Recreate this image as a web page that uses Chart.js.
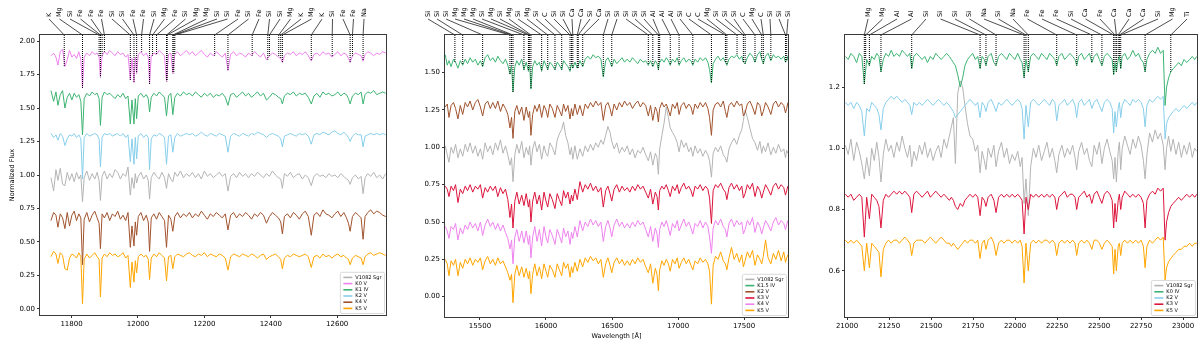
<!DOCTYPE html>
<html>
<head>
<meta charset="utf-8">
<script src="https://cdn.jsdelivr.net/npm/chart.js@4/dist/chart.umd.min.js"></script>
<style>
  html, body { margin: 0; padding: 0; background: #fff; }
  #fig { position: relative; width: 1200px; height: 345px; }
  #fig canvas { position: absolute; top: 0; }
</style>
</head>
<body>
<div id="fig">
  <canvas id="panelJ" width="400" height="345" style="left:0"></canvas>
  <canvas id="panelH" width="400" height="345" style="left:400px"></canvas>
  <canvas id="panelK" width="400" height="345" style="left:800px"></canvas>
</div>
<script>
'use strict';

// ---- J band panel ----
var waveJ = [
  11738, 11746, 11753, 11759, 11766, 11773, 11780, 11787, 11794, 11801,
  11808, 11815, 11822, 11828, 11833, 11838, 11846, 11854, 11862, 11870,
  11877, 11883, 11887, 11892, 11899, 11907, 11915, 11923, 11931, 11939,
  11947, 11955, 11963, 11970, 11977, 11982, 11988, 11992, 11996, 12001,
  12009, 12017, 12025, 12031, 12035, 12040, 12048, 12056, 12064, 12072,
  12080, 12086, 12092, 12099, 12105, 12111, 12119, 12128, 12137, 12146,
  12155, 12164, 12173, 12182, 12191, 12200, 12209, 12218, 12227, 12236,
  12245, 12254, 12263, 12271, 12279, 12288, 12297, 12306, 12315, 12324,
  12333, 12342, 12351, 12360, 12369, 12378, 12387, 12396, 12405, 12414,
  12423, 12430, 12435, 12441, 12450, 12459, 12468, 12477, 12486, 12495,
  12504, 12513, 12522, 12530, 12539, 12548, 12557, 12566, 12575, 12584,
  12593, 12602, 12611, 12620, 12628, 12634, 12639, 12646, 12655, 12664,
  12672, 12678, 12684, 12692, 12701, 12710, 12719, 12728, 12737, 12746
];
var fluxJ_Sgr = [
  0.98, 0.88, 1.04, 0.96, 1.05, 0.93, 0.92, 1.02, 0.96, 1.01,
  0.95, 1.02, 0.97, 1.00, 0.80, 0.98, 1.03, 0.96, 1.01, 0.97,
  1.02, 0.96, 0.81, 0.99, 1.03, 0.97, 1.01, 0.98, 1.04, 1.02,
  0.97, 1.01, 0.99, 1.06, 0.85, 0.98, 0.90, 1.01, 0.94, 0.99,
  1.02, 0.97, 1.00, 0.96, 0.82, 0.98, 1.02, 0.99, 0.97, 1.02,
  0.98, 0.90, 1.01, 0.97, 0.95, 1.02, 0.99, 1.03, 0.98, 1.01,
  0.99, 1.02, 0.98, 1.01, 0.97, 1.03, 0.99, 1.01, 0.98, 1.00,
  1.02, 0.99, 1.01, 0.88, 0.99, 1.01, 0.98, 1.02, 0.99, 1.01,
  0.98, 1.01, 0.99, 1.02, 1.00, 0.98, 1.01, 0.99, 1.03, 1.00,
  0.98, 0.97, 0.90, 1.01, 0.99, 1.02, 0.98, 1.00, 1.01, 0.97,
  1.00, 0.98, 0.92, 0.99, 1.01, 0.99, 1.00, 0.98, 1.01, 0.99,
  1.00, 0.98, 1.01, 0.99, 0.97, 0.96, 0.93, 0.98, 1.00, 0.97,
  0.99, 0.86, 0.98, 1.01, 0.99, 1.02, 0.98, 1.00, 0.97, 1.01
];
var fluxJ_K0V = [
  1.89, 1.91, 1.88, 1.82, 1.92, 1.94, 1.81, 1.86, 1.93, 1.88,
  1.90, 1.87, 1.92, 1.86, 1.65, 1.88, 1.91, 1.89, 1.92, 1.90,
  1.91, 1.88, 1.73, 1.89, 1.92, 1.90, 1.93, 1.91, 1.89, 1.92,
  1.90, 1.91, 1.88, 1.90, 1.71, 1.87, 1.69, 1.88, 1.76, 1.90,
  1.92, 1.89, 1.91, 1.88, 1.68, 1.89, 1.91, 1.90, 1.93, 1.91,
  1.89, 1.70, 1.90, 1.91, 1.76, 1.90, 1.92, 1.89, 1.91, 1.93,
  1.90, 1.92, 1.89, 1.91, 1.93, 1.90, 1.88, 1.91, 1.89, 1.92,
  1.90, 1.88, 1.91, 1.78, 1.90, 1.92, 1.89, 1.91, 1.90, 1.88,
  1.91, 1.89, 1.92, 1.90, 1.88, 1.91, 1.86, 1.89, 1.91, 1.90,
  1.88, 1.87, 1.84, 1.89, 1.91, 1.90, 1.92, 1.89, 1.91, 1.90,
  1.92, 1.89, 1.85, 1.90, 1.91, 1.89, 1.92, 1.90, 1.91, 1.88,
  1.90, 1.92, 1.89, 1.91, 1.90, 1.87, 1.84, 1.89, 1.91, 1.90,
  1.89, 1.85, 1.90, 1.92, 1.91, 1.89, 1.91, 1.90, 1.92, 1.91
];
var fluxJ_K1IV = [
  1.63, 1.55, 1.62, 1.52, 1.60, 1.63, 1.50, 1.58, 1.61, 1.56,
  1.61, 1.58, 1.60, 1.55, 1.30, 1.57, 1.61, 1.59, 1.62, 1.60,
  1.61, 1.57, 1.37, 1.58, 1.62, 1.60, 1.61, 1.59, 1.57, 1.60,
  1.58, 1.61, 1.57, 1.59, 1.38, 1.56, 1.38, 1.57, 1.42, 1.59,
  1.61, 1.58, 1.60, 1.57, 1.47, 1.58, 1.61, 1.59, 1.62, 1.60,
  1.58, 1.44, 1.59, 1.61, 1.45, 1.58, 1.61, 1.59, 1.62, 1.60,
  1.61, 1.59, 1.62, 1.60, 1.58, 1.61, 1.59, 1.61, 1.58, 1.60,
  1.59, 1.61, 1.58, 1.52, 1.60, 1.61, 1.58, 1.60, 1.62, 1.59,
  1.61, 1.58, 1.60, 1.62, 1.59, 1.61, 1.56, 1.58, 1.61, 1.60,
  1.58, 1.57, 1.53, 1.59, 1.61, 1.60, 1.62, 1.59, 1.61, 1.60,
  1.61, 1.58, 1.53, 1.59, 1.61, 1.58, 1.62, 1.60, 1.61, 1.59,
  1.60, 1.62, 1.59, 1.61, 1.60, 1.57, 1.53, 1.59, 1.61, 1.60,
  1.62, 1.53, 1.60, 1.62, 1.61, 1.63, 1.60, 1.61, 1.62, 1.61
];
var fluxJ_K2V = [
  1.31, 1.28, 1.30, 1.26, 1.31, 1.29, 1.22, 1.27, 1.30, 1.29,
  1.31, 1.28, 1.30, 1.27, 0.97, 1.28, 1.31, 1.29, 1.30, 1.31,
  1.30, 1.27, 1.06, 1.28, 1.31, 1.30, 1.31, 1.29, 1.30, 1.31,
  1.29, 1.31, 1.28, 1.30, 1.10, 1.27, 1.08, 1.28, 1.12, 1.29,
  1.31, 1.28, 1.30, 1.28, 1.04, 1.27, 1.30, 1.29, 1.31, 1.30,
  1.28, 1.08, 1.29, 1.30, 1.17, 1.28, 1.31, 1.29, 1.30, 1.31,
  1.30, 1.31, 1.29, 1.30, 1.32, 1.30, 1.29, 1.31, 1.30, 1.29,
  1.31, 1.30, 1.29, 1.17, 1.29, 1.31, 1.30, 1.29, 1.31, 1.30,
  1.29, 1.31, 1.30, 1.32, 1.31, 1.30, 1.28, 1.30, 1.31, 1.30,
  1.29, 1.27, 1.21, 1.29, 1.30, 1.31, 1.30, 1.29, 1.31, 1.30,
  1.31, 1.29, 1.23, 1.30, 1.31, 1.30, 1.32, 1.31, 1.30, 1.32,
  1.33, 1.31, 1.30, 1.32, 1.30, 1.28, 1.25, 1.29, 1.31, 1.30,
  1.30, 1.21, 1.29, 1.30, 1.31, 1.30, 1.31, 1.30, 1.31, 1.30
];
var fluxJ_K4V = [
  0.66, 0.72, 0.70, 0.61, 0.71, 0.68, 0.60, 0.72, 0.62, 0.70,
  0.73, 0.66, 0.71, 0.68, 0.33, 0.67, 0.72, 0.65, 0.70, 0.73,
  0.68, 0.64, 0.45, 0.71, 0.68, 0.72, 0.66, 0.71, 0.69, 0.73,
  0.67, 0.70, 0.66, 0.72, 0.46, 0.62, 0.47, 0.65, 0.55, 0.69,
  0.72, 0.66, 0.70, 0.65, 0.43, 0.68, 0.71, 0.67, 0.72, 0.69,
  0.66, 0.46, 0.70, 0.67, 0.58, 0.69, 0.72, 0.68, 0.71, 0.69,
  0.72, 0.68, 0.71, 0.69, 0.73, 0.70, 0.67, 0.71, 0.69, 0.72,
  0.70, 0.68, 0.71, 0.59, 0.70, 0.72, 0.68, 0.71, 0.69, 0.72,
  0.70, 0.67, 0.71, 0.69, 0.72, 0.70, 0.64, 0.69, 0.72, 0.70,
  0.68, 0.65, 0.56, 0.69, 0.71, 0.68, 0.72, 0.70, 0.67, 0.71,
  0.73, 0.69, 0.55, 0.70, 0.72, 0.69, 0.74, 0.71, 0.70, 0.68,
  0.71, 0.73, 0.69, 0.72, 0.68, 0.64, 0.58, 0.69, 0.72, 0.70,
  0.68, 0.52, 0.69, 0.72, 0.74, 0.71, 0.73, 0.72, 0.70, 0.69
];
var fluxJ_K5V = [
  0.39, 0.43, 0.41, 0.34, 0.42, 0.40, 0.30, 0.29, 0.38, 0.41,
  0.40, 0.38, 0.42, 0.39, 0.04, 0.37, 0.41, 0.38, 0.40, 0.42,
  0.39, 0.37, 0.09, 0.38, 0.41, 0.39, 0.42, 0.40, 0.41, 0.39,
  0.40, 0.42, 0.38, 0.40, 0.16, 0.35, 0.20, 0.36, 0.27, 0.39,
  0.41, 0.39, 0.40, 0.37, 0.22, 0.38, 0.41, 0.39, 0.42, 0.40,
  0.38, 0.21, 0.39, 0.40, 0.30, 0.39, 0.41, 0.40, 0.39, 0.41,
  0.42, 0.40, 0.39, 0.41, 0.40, 0.42, 0.39, 0.41, 0.40, 0.39,
  0.41, 0.40, 0.38, 0.29, 0.39, 0.41, 0.40, 0.39, 0.41, 0.40,
  0.39, 0.41, 0.40, 0.38, 0.40, 0.41, 0.37, 0.39, 0.40, 0.41,
  0.39, 0.37, 0.30, 0.38, 0.40, 0.39, 0.41, 0.40, 0.39, 0.40,
  0.41, 0.39, 0.31, 0.39, 0.40, 0.38, 0.41, 0.39, 0.40, 0.38,
  0.40, 0.41, 0.39, 0.40, 0.38, 0.37, 0.33, 0.38, 0.40, 0.39,
  0.38, 0.33, 0.39, 0.41, 0.42, 0.40, 0.41, 0.42, 0.41, 0.40
];
var linesJ = [11778, 11833, 11883, 11887, 11892, 11899, 11977, 11988, 11996, 12011,
  12035, 12044, 12056, 12086, 12088, 12105, 12108, 12111, 12231, 12271,
  12344, 12391, 12396, 12424, 12430, 12435, 12522, 12585, 12639, 12646, 12678];
var namesJ = ['K', 'Mg', 'Si', 'Fe', 'Fe', 'Fe', 'Si', 'Si', 'Fe', 'Fe',
  'Si', 'Mg', 'Fe', 'Si', 'Mg', 'Mg', 'Si', 'Si', 'Fe', 'Si',
  'Fe', 'Si', 'Si', 'Mg', 'K', 'Mg', 'K', 'Si', 'Fe', 'Fe', 'Na'];
var xTicksJ = [11800, 12000, 12200, 12400, 12600];
var yTicksJ = [0.00, 0.25, 0.50, 0.75, 1.00, 1.25, 1.50, 1.75, 2.00];

// ---- H band panel ----
var waveH = [
  15237, 15252, 15265, 15281, 15299, 15315, 15333, 15351, 15369, 15388,
  15406, 15425, 15445, 15465, 15484, 15503, 15520, 15539, 15558, 15578,
  15597, 15617, 15635, 15655, 15674, 15693, 15711, 15727, 15739, 15750,
  15764, 15779, 15797, 15816, 15833, 15850, 15867, 15876, 15886, 15899,
  15915, 15932, 15950, 15967, 15985, 16000, 16013, 16029, 16048, 16068,
  16085, 16101, 16119, 16133, 16149, 16166, 16182, 16193, 16203, 16219,
  16237, 16257, 16278, 16297, 16317, 16337, 16357, 16377, 16396, 16416,
  16434, 16452, 16469, 16485, 16498, 16516, 16536, 16556, 16576, 16595,
  16615, 16635, 16655, 16675, 16695, 16715, 16735, 16755, 16775, 16792,
  16809, 16828, 16841, 16851, 16861, 16878, 16894, 16911, 16927, 16941,
  16958, 16977, 16994, 17008, 17025, 17044, 17062, 17081, 17098, 17112,
  17129, 17149, 17168, 17188, 17208, 17226, 17239, 17253, 17266, 17284,
  17303, 17323, 17343, 17359, 17370, 17386, 17405, 17425, 17445, 17465,
  17483, 17495, 17508, 17525, 17544, 17564, 17583, 17602, 17620, 17634,
  17646, 17663, 17682, 17703, 17722, 17741, 17761, 17781, 17801, 17814,
  17823, 17832
];
var fluxH_Sgr = [
  1.01, 0.95, 0.90, 1.00, 0.96, 1.02, 0.93, 0.99, 0.94, 1.02,
  0.97, 1.03, 0.96, 1.01, 0.94, 0.99, 0.92, 1.03, 0.97, 1.01,
  0.95, 1.03, 0.98, 1.05, 0.96, 1.01, 0.95, 0.88, 0.93, 0.77,
  0.95, 1.02, 0.96, 1.04, 0.93, 1.00, 0.95, 1.01, 0.88, 0.99,
  1.04, 0.97, 1.02, 0.92, 1.01, 0.96, 0.94, 1.03, 1.00, 0.95,
  1.05, 1.09, 1.12, 1.17, 1.08, 1.03, 0.95, 1.00, 0.92, 1.01,
  0.92, 0.99, 0.94, 1.01, 0.97, 1.02, 0.98, 1.03, 1.00, 1.05,
  1.02, 1.08, 1.14, 1.10, 1.04, 0.99, 1.03, 0.96, 1.00, 0.97,
  1.01, 0.95, 0.99, 0.93, 0.98, 0.96, 1.00, 0.95, 0.91, 0.97,
  0.88, 0.96, 0.93, 0.82, 0.99, 1.08, 1.16, 1.27, 1.20, 1.13,
  1.10, 1.07, 1.03, 0.97, 1.05, 1.00, 1.03, 0.97, 1.00, 0.94,
  1.01, 0.96, 0.99, 0.94, 0.98, 0.95, 0.91, 0.80, 0.96, 1.00,
  0.97, 1.01, 0.95, 0.93, 0.90, 0.99, 1.03, 1.06, 1.02, 1.08,
  1.12, 1.18, 1.25, 1.20, 1.13, 1.06, 1.03, 0.98, 1.04, 0.96,
  1.01, 0.97, 1.03, 0.95, 1.00, 0.96, 1.02, 0.97, 0.99, 0.93,
  0.98, 0.96
];
var fluxH_K15IV = [
  1.62, 1.55, 1.58, 1.54, 1.59, 1.57, 1.53, 1.58, 1.55, 1.59,
  1.56, 1.60, 1.57, 1.59, 1.55, 1.58, 1.54, 1.60, 1.62, 1.58,
  1.60, 1.57, 1.61, 1.58, 1.56, 1.59, 1.55, 1.49, 1.55, 1.37,
  1.54, 1.58, 1.55, 1.59, 1.52, 1.57, 1.51, 1.55, 1.39, 1.54,
  1.58, 1.55, 1.57, 1.51, 1.58, 1.55, 1.52, 1.57, 1.55, 1.52,
  1.57, 1.55, 1.52, 1.58, 1.56, 1.54, 1.51, 1.56, 1.53, 1.57,
  1.53, 1.58, 1.54, 1.59, 1.61, 1.59, 1.62, 1.60, 1.61, 1.59,
  1.47, 1.58, 1.60, 1.57, 1.54, 1.59, 1.56, 1.58, 1.60, 1.57,
  1.59, 1.57, 1.60, 1.58, 1.56, 1.59, 1.57, 1.58, 1.55, 1.58,
  1.54, 1.58, 1.56, 1.52, 1.57, 1.59, 1.57, 1.60, 1.58, 1.55,
  1.59, 1.57, 1.60, 1.55, 1.58, 1.60, 1.57, 1.59, 1.58, 1.55,
  1.59, 1.57, 1.60, 1.58, 1.60, 1.57, 1.52, 1.43, 1.56, 1.59,
  1.61, 1.58, 1.60, 1.57, 1.55, 1.59, 1.61, 1.60, 1.62, 1.59,
  1.61, 1.57, 1.56, 1.60, 1.63, 1.61, 1.57, 1.62, 1.64, 1.59,
  1.56, 1.61, 1.63, 1.58, 1.62, 1.60, 1.61, 1.59, 1.61, 1.57,
  1.58, 1.61
];
var fluxH_K2V = [
  1.27, 1.29, 1.20, 1.28, 1.30, 1.26, 1.19, 1.28, 1.22, 1.30,
  1.27, 1.31, 1.25, 1.30, 1.32, 1.27, 1.21, 1.29, 1.31, 1.26,
  1.30, 1.26, 1.31, 1.24, 1.29, 1.26, 1.22, 1.13, 1.20, 1.06,
  1.24, 1.28, 1.22, 1.27, 1.18, 1.27, 1.20, 1.24, 1.08, 1.22,
  1.28, 1.24, 1.29, 1.20, 1.28, 1.25, 1.20, 1.29, 1.26, 1.20,
  1.28, 1.25, 1.21, 1.29, 1.24, 1.28, 1.19, 1.26, 1.21, 1.29,
  1.22, 1.28, 1.21, 1.29, 1.26, 1.30, 1.27, 1.31, 1.28, 1.30,
  1.18, 1.28, 1.30, 1.26, 1.21, 1.29, 1.25, 1.30, 1.27, 1.31,
  1.28, 1.30, 1.26, 1.29, 1.31, 1.27, 1.30, 1.28, 1.21, 1.28,
  1.18, 1.27, 1.24, 1.17, 1.26, 1.30, 1.27, 1.29, 1.25, 1.21,
  1.29, 1.26, 1.30, 1.22, 1.28, 1.30, 1.26, 1.29, 1.27, 1.22,
  1.29, 1.26, 1.30, 1.27, 1.30, 1.26, 1.20, 1.08, 1.25, 1.29,
  1.30, 1.27, 1.31, 1.24, 1.20, 1.28, 1.30, 1.27, 1.31, 1.28,
  1.29, 1.21, 1.23, 1.29, 1.31, 1.27, 1.22, 1.30, 1.28, 1.21,
  1.24, 1.30, 1.27, 1.22, 1.29, 1.31, 1.27, 1.30, 1.28, 1.23,
  1.26, 1.30
];
var fluxH_K3V = [
  0.74, 0.72, 0.67, 0.74, 0.71, 0.75, 0.63, 0.72, 0.69, 0.74,
  0.71, 0.75, 0.70, 0.74, 0.72, 0.75, 0.66, 0.73, 0.70, 0.74,
  0.71, 0.74, 0.67, 0.73, 0.69, 0.72, 0.65, 0.53, 0.62, 0.46,
  0.64, 0.70, 0.62, 0.68, 0.61, 0.69, 0.60, 0.65, 0.50, 0.64,
  0.70, 0.62, 0.68, 0.58, 0.70, 0.64, 0.60, 0.69, 0.65, 0.59,
  0.69, 0.65, 0.61, 0.71, 0.66, 0.70, 0.62, 0.68, 0.64, 0.72,
  0.65, 0.77, 0.70, 0.75, 0.72, 0.76, 0.71, 0.74, 0.70, 0.73,
  0.60, 0.71, 0.74, 0.69, 0.64, 0.72, 0.75, 0.70, 0.74, 0.71,
  0.73, 0.70, 0.74, 0.71, 0.75, 0.72, 0.74, 0.70, 0.66, 0.72,
  0.62, 0.70, 0.67, 0.58, 0.71, 0.74, 0.72, 0.75, 0.71, 0.67,
  0.74, 0.71, 0.75, 0.69, 0.73, 0.76, 0.72, 0.74, 0.71, 0.67,
  0.74, 0.72, 0.75, 0.71, 0.74, 0.72, 0.66, 0.49, 0.71, 0.75,
  0.73, 0.76, 0.72, 0.70, 0.65, 0.73, 0.76, 0.72, 0.75, 0.71,
  0.74, 0.66, 0.69, 0.75, 0.72, 0.76, 0.67, 0.74, 0.71, 0.66,
  0.70, 0.75, 0.72, 0.68, 0.74, 0.76, 0.72, 0.75, 0.73, 0.68,
  0.71, 0.74
];
var fluxH_K4V = [
  0.47, 0.44, 0.39, 0.47, 0.45, 0.49, 0.38, 0.46, 0.42, 0.48,
  0.45, 0.50, 0.46, 0.49, 0.44, 0.50, 0.41, 0.48, 0.52, 0.47,
  0.50, 0.45, 0.49, 0.44, 0.48, 0.43, 0.39, 0.32, 0.38, 0.22,
  0.40, 0.45, 0.37, 0.44, 0.36, 0.44, 0.35, 0.41, 0.26, 0.40,
  0.47, 0.37, 0.45, 0.34, 0.47, 0.40, 0.36, 0.45, 0.41, 0.35,
  0.45, 0.41, 0.36, 0.46, 0.40, 0.44, 0.35, 0.43, 0.39, 0.47,
  0.40, 0.51, 0.44, 0.50, 0.47, 0.52, 0.48, 0.51, 0.47, 0.50,
  0.37, 0.47, 0.51, 0.46, 0.40, 0.48, 0.52, 0.47, 0.50, 0.46,
  0.49, 0.46, 0.50, 0.47, 0.51, 0.48, 0.50, 0.45, 0.40, 0.47,
  0.37, 0.46, 0.42, 0.33, 0.45, 0.50, 0.47, 0.51, 0.46, 0.41,
  0.49, 0.46, 0.51, 0.44, 0.48, 0.52, 0.47, 0.50, 0.46, 0.42,
  0.49, 0.47, 0.51, 0.46, 0.50, 0.47, 0.40, 0.29, 0.46, 0.51,
  0.48, 0.52, 0.47, 0.45, 0.40, 0.49, 0.52, 0.47, 0.51, 0.48,
  0.50, 0.42, 0.45, 0.51, 0.48, 0.53, 0.43, 0.50, 0.47, 0.42,
  0.46, 0.51, 0.48, 0.44, 0.50, 0.53, 0.48, 0.51, 0.49, 0.45,
  0.48, 0.51
];
var fluxH_K5V = [
  0.25, 0.22, 0.14, 0.24, 0.21, 0.25, 0.14, 0.23, 0.19, 0.25,
  0.22, 0.26, 0.21, 0.25, 0.23, 0.26, 0.18, 0.24, 0.27, 0.22,
  0.25, 0.21, 0.26, 0.22, 0.24, 0.20, 0.16, 0.11, 0.15, -0.04,
  0.15, 0.21, 0.14, 0.20, 0.13, 0.19, 0.12, 0.17, 0.02, 0.15,
  0.22, 0.14, 0.20, 0.12, 0.22, 0.17, 0.13, 0.21, 0.18, 0.13,
  0.22, 0.18, 0.14, 0.23, 0.19, 0.22, 0.13, 0.20, 0.16, 0.23,
  0.17, 0.25, 0.20, 0.26, 0.23, 0.27, 0.24, 0.26, 0.22, 0.25,
  0.13, 0.22, 0.26, 0.21, 0.16, 0.23, 0.26, 0.22, 0.25, 0.21,
  0.24, 0.21, 0.25, 0.22, 0.26, 0.23, 0.25, 0.20, 0.16, 0.22,
  0.09, 0.19, 0.15, 0.04, 0.18, 0.24, 0.21, 0.25, 0.22, 0.17,
  0.25, 0.22, 0.26, 0.19, 0.23, 0.26, 0.22, 0.25, 0.21, 0.18,
  0.24, 0.22, 0.26, 0.23, 0.25, 0.22, 0.17, -0.05, 0.21, 0.27,
  0.25, 0.30, 0.24, 0.22, 0.18, 0.26, 0.33, 0.25, 0.29, 0.23,
  0.28, 0.20, 0.24, 0.30, 0.26, 0.31, 0.21, 0.28, 0.25, 0.22,
  0.27, 0.38, 0.26, 0.22, 0.29, 0.25, 0.31, 0.24, 0.30, 0.23,
  0.26, 0.28
];
var linesH = [15310, 15369, 15520, 15727, 15739, 15750, 15833, 15867, 15876, 15886,
  15967, 16013, 16068, 16119, 16182, 16193, 16203, 16237, 16244, 16278,
  16434, 16498, 16775, 16809, 16851, 16861, 16941, 17008, 17112, 17253,
  17359, 17370, 17447, 17495, 17508, 17583, 17634, 17646, 17703, 17814, 17823];
var namesH = ['Si', 'Si', 'Si', 'Mg', 'Mg', 'Mg', 'Si', 'Mg', 'Si', 'Mg',
  'Si', 'Mg', 'Si', 'C', 'Si', 'Si', 'Ca', 'Ca', 'Si', 'Ca',
  'Si', 'Si', 'Si', 'Si', 'Si', 'Al', 'Al', 'Al', 'Si', 'C',
  'C', 'Mg', 'Si', 'Si', 'Si', 'C', 'Mg', 'C', 'Si', 'Si', 'Si'];
var xTicksH = [15500, 16000, 16500, 17000, 17500];
var yTicksH = [0.00, 0.25, 0.50, 0.75, 1.00, 1.25, 1.50];

// ---- K band panel ----
var waveK = [
  20990, 21007, 21023, 21040, 21057, 21073, 21088, 21103, 21117, 21133,
  21147, 21162, 21177, 21190, 21202, 21216, 21231, 21247, 21263, 21279,
  21296, 21312, 21328, 21344, 21360, 21374, 21385, 21398, 21414, 21431,
  21447, 21463, 21479, 21496, 21512, 21528, 21544, 21560, 21577, 21593,
  21609, 21621, 21633, 21645, 21659, 21674, 21688, 21702, 21717, 21732,
  21748, 21764, 21778, 21792, 21804, 21817, 21827, 21840, 21858, 21874,
  21887, 21902, 21919, 21935, 21951, 21967, 21983, 21999, 22016, 22031,
  22042, 22054, 22065, 22079, 22093, 22109, 22125, 22141, 22158, 22174,
  22190, 22206, 22222, 22237, 22248, 22261, 22279, 22295, 22311, 22327,
  22343, 22357, 22367, 22379, 22396, 22412, 22428, 22443, 22457, 22471,
  22487, 22502, 22517, 22532, 22548, 22564, 22578, 22587, 22595, 22603,
  22614, 22621, 22629, 22638, 22653, 22669, 22685, 22701, 22718, 22734,
  22750, 22764, 22774, 22785, 22801, 22818, 22834, 22850, 22866, 22882,
  22893, 22902, 22914, 22927, 22941, 22958, 22974, 22990, 23006, 23022,
  23039, 23055, 23069, 23082
];
var fluxK_Sgr = [
  1.01, 0.98, 1.03, 0.96, 1.02, 0.99, 0.95, 0.90, 0.97, 0.91,
  1.00, 0.96, 1.02, 0.97, 0.89, 0.98, 1.03, 0.99, 1.01, 0.97,
  1.02, 0.99, 1.04, 1.00, 0.97, 1.01, 0.94, 0.99, 0.96, 1.01,
  0.98, 1.02, 0.97, 1.00, 0.96, 0.99, 1.01, 0.97, 1.03, 1.00,
  1.04, 1.07, 1.10, 0.95, 1.18, 1.22, 1.20, 1.14, 1.08, 1.04,
  1.03, 0.99, 1.01, 0.92, 0.99, 0.96, 0.93, 1.00, 0.97, 1.01,
  0.94, 0.99, 1.02, 0.97, 1.00, 0.95, 0.98, 0.96, 0.99, 0.94,
  0.97, 0.82, 0.90, 0.78, 0.94, 1.00, 0.97, 1.01, 0.96, 0.99,
  1.02, 0.97, 1.00, 0.96, 0.92, 0.98, 1.01, 0.97, 1.00, 0.98,
  1.01, 0.97, 0.93, 0.99, 1.02, 0.98, 1.00, 0.96, 0.94, 1.01,
  0.98, 1.02, 0.95, 1.00, 1.03, 0.99, 0.96, 0.90, 0.97, 0.89,
  0.99, 1.02, 0.93, 1.00, 1.04, 1.01, 0.98, 1.03, 1.00, 1.04,
  1.01, 0.96, 0.90, 0.98, 1.05, 1.02, 1.06, 1.03, 1.05, 1.01,
  0.93, 1.00, 1.04, 0.99, 1.03, 0.98, 1.02, 0.97, 1.01, 0.98,
  1.02, 0.97, 1.00, 0.99
];
var fluxK_K0IV = [
  1.30, 1.29, 1.31, 1.30, 1.28, 1.31, 1.30, 1.21, 1.29, 1.27,
  1.30, 1.29, 1.31, 1.30, 1.25, 1.29, 1.31, 1.30, 1.32, 1.30,
  1.31, 1.30, 1.32, 1.31, 1.30, 1.31, 1.26, 1.30, 1.31, 1.30,
  1.29, 1.30, 1.28, 1.30, 1.29, 1.31, 1.30, 1.29, 1.30, 1.31,
  1.30, 1.29, 1.28, 1.27, 1.24, 1.20, 1.23, 1.27, 1.29, 1.30,
  1.31, 1.29, 1.30, 1.26, 1.30, 1.29, 1.27, 1.30, 1.31, 1.28,
  1.27, 1.30, 1.31, 1.30, 1.29, 1.31, 1.30, 1.29, 1.31, 1.29,
  1.28, 1.23, 1.29, 1.25, 1.30, 1.31, 1.30, 1.29, 1.31, 1.30,
  1.29, 1.31, 1.30, 1.29, 1.27, 1.30, 1.31, 1.29, 1.30, 1.31,
  1.30, 1.29, 1.27, 1.30, 1.31, 1.29, 1.30, 1.31, 1.28, 1.30,
  1.31, 1.29, 1.27, 1.30, 1.31, 1.30, 1.29, 1.24, 1.28, 1.25,
  1.29, 1.30, 1.26, 1.30, 1.31, 1.29, 1.30, 1.32, 1.30, 1.31,
  1.29, 1.28, 1.25, 1.29, 1.31, 1.32, 1.31, 1.33, 1.31, 1.32,
  1.14, 1.20, 1.23, 1.25, 1.26, 1.27, 1.28, 1.27, 1.29, 1.28,
  1.29, 1.30, 1.29, 1.30
];
var fluxK_K2V = [
  1.15, 1.14, 1.15, 1.13, 1.15, 1.14, 1.12, 1.04, 1.13, 1.12,
  1.15, 1.14, 1.13, 1.11, 1.06, 1.13, 1.15, 1.16, 1.17, 1.16,
  1.17, 1.16, 1.15, 1.16, 1.15, 1.14, 1.11, 1.15, 1.14, 1.15,
  1.14, 1.15, 1.16, 1.15, 1.14, 1.15, 1.16, 1.15, 1.14, 1.15,
  1.14, 1.13, 1.12, 1.10, 1.11, 1.12, 1.13, 1.14, 1.15, 1.16,
  1.15, 1.14, 1.15, 1.10, 1.15, 1.14, 1.12, 1.15, 1.16, 1.14,
  1.12, 1.15, 1.14, 1.15, 1.16, 1.15, 1.14, 1.15, 1.16, 1.15,
  1.13, 1.03, 1.14, 1.07, 1.15, 1.16, 1.15, 1.14, 1.15, 1.16,
  1.15, 1.14, 1.16, 1.15, 1.09, 1.14, 1.15, 1.16, 1.14, 1.15,
  1.16, 1.14, 1.10, 1.15, 1.16, 1.14, 1.15, 1.16, 1.13, 1.15,
  1.16, 1.14, 1.12, 1.15, 1.16, 1.15, 1.13, 1.05, 1.12, 1.07,
  1.13, 1.15, 1.10, 1.14, 1.16, 1.15, 1.14, 1.16, 1.15, 1.16,
  1.15, 1.13, 1.07, 1.14, 1.16, 1.15, 1.16, 1.17, 1.16, 1.17,
  1.03, 1.08, 1.10, 1.11, 1.12, 1.13, 1.12, 1.13, 1.14, 1.13,
  1.14, 1.15, 1.14, 1.15
];
var fluxK_K3V = [
  0.85, 0.84, 0.85, 0.83, 0.84, 0.85, 0.84, 0.71, 0.84, 0.77,
  0.85, 0.84, 0.83, 0.81, 0.74, 0.83, 0.85, 0.84, 0.85, 0.86,
  0.85, 0.86, 0.85, 0.86, 0.85, 0.84, 0.79, 0.85, 0.86, 0.85,
  0.84, 0.85, 0.86, 0.84, 0.85, 0.86, 0.85, 0.84, 0.85, 0.84,
  0.83, 0.84, 0.83, 0.81, 0.80, 0.82, 0.81, 0.83, 0.84, 0.85,
  0.84, 0.85, 0.84, 0.78, 0.84, 0.83, 0.81, 0.84, 0.85, 0.83,
  0.79, 0.84, 0.85, 0.84, 0.85, 0.84, 0.85, 0.84, 0.85, 0.84,
  0.83, 0.72, 0.84, 0.80, 0.85, 0.84, 0.85, 0.84, 0.85, 0.84,
  0.85, 0.84, 0.85, 0.84, 0.80, 0.84, 0.85, 0.86, 0.84, 0.85,
  0.85, 0.84, 0.80, 0.84, 0.85, 0.86, 0.84, 0.85, 0.82, 0.85,
  0.86, 0.84, 0.82, 0.85, 0.86, 0.85, 0.83, 0.74, 0.82, 0.76,
  0.83, 0.85, 0.80, 0.84, 0.86, 0.85, 0.84, 0.85, 0.84, 0.85,
  0.84, 0.82, 0.74, 0.83, 0.85, 0.86, 0.85, 0.87, 0.86, 0.87,
  0.70, 0.76, 0.79, 0.81, 0.82, 0.83, 0.84, 0.83, 0.84, 0.85,
  0.84, 0.85, 0.84, 0.85
];
var fluxK_K5V = [
  0.70, 0.69, 0.70, 0.69, 0.70, 0.69, 0.68, 0.60, 0.69, 0.61,
  0.69, 0.68, 0.67, 0.66, 0.58, 0.67, 0.69, 0.70, 0.69, 0.70,
  0.70, 0.69, 0.70, 0.71, 0.70, 0.69, 0.65, 0.69, 0.70, 0.70,
  0.70, 0.69, 0.70, 0.71, 0.70, 0.69, 0.70, 0.71, 0.70, 0.69,
  0.69, 0.68, 0.69, 0.68, 0.67, 0.68, 0.69, 0.70, 0.69, 0.70,
  0.70, 0.69, 0.70, 0.64, 0.69, 0.70, 0.67, 0.70, 0.71, 0.69,
  0.65, 0.69, 0.70, 0.69, 0.70, 0.70, 0.69, 0.70, 0.69, 0.70,
  0.68, 0.56, 0.69, 0.60, 0.69, 0.70, 0.69, 0.70, 0.69, 0.70,
  0.70, 0.69, 0.70, 0.69, 0.65, 0.69, 0.70, 0.69, 0.70, 0.69,
  0.70, 0.69, 0.65, 0.69, 0.70, 0.69, 0.70, 0.69, 0.67, 0.70,
  0.70, 0.69, 0.67, 0.69, 0.70, 0.69, 0.68, 0.59, 0.67, 0.60,
  0.68, 0.69, 0.65, 0.69, 0.70, 0.69, 0.70, 0.69, 0.70, 0.69,
  0.70, 0.68, 0.61, 0.68, 0.70, 0.69, 0.70, 0.71, 0.70, 0.71,
  0.57, 0.61, 0.63, 0.64, 0.65, 0.66, 0.67, 0.67, 0.68, 0.68,
  0.69, 0.68, 0.69, 0.69
];
var linesK = [21103, 21111, 21133, 21202, 21385, 21792, 21827, 21887, 22054, 22065,
  22079, 22248, 22367, 22457, 22517, 22587, 22595, 22603, 22614, 22621,
  22629, 22774, 22927];
var namesK = ['Mg', 'Mg', 'Al', 'Al', 'Si', 'Si', 'Si', 'Si', 'Na', 'Si',
  'Na', 'Fe', 'Fe', 'Fe', 'Si', 'Ca', 'Fe', 'Ca', 'Ca', 'Ca',
  'Si', 'Mg', 'Ti'];
var xTicksK = [21000, 21250, 21500, 21750, 22000, 22250, 22500, 22750, 23000];
var yTicksK = [0.6, 0.8, 1.0, 1.2];

// colours
var cSgr = '#b4b4b4', cK0 = '#ee82ee', cGreen = '#3cb371', cBlue = '#87ceeb',
    cBrown = '#a0522d', cRed = '#dc143c', cOrange = '#ffa500';

Chart.defaults.font.family = "'DejaVu Sans', sans-serif";
Chart.defaults.color = '#000';

function seg(ctx, x1, y1, x2, y2) {
  ctx.beginPath();
  ctx.moveTo(x1, y1);
  ctx.lineTo(x2, y2);
  ctx.stroke();
}

// push labels apart so they keep a minimum gap (pool adjacent violators)
function spread(xs, gap, lo, hi) {
  var blocks = [];
  xs.forEach(function(x, i) {
    blocks.push({ v: x - i * gap, n: 1 });
    while (blocks.length > 1 && blocks[blocks.length - 2].v > blocks[blocks.length - 1].v) {
      var b = blocks.pop(), a = blocks[blocks.length - 1];
      a.v = (a.v * a.n + b.v * b.n) / (a.n + b.n);
      a.n += b.n;
    }
  });
  var out = [], maxV = hi - (xs.length - 1) * gap;
  blocks.forEach(function(b) {
    for (var k = 0; k < b.n; k++) {
      out.push(Math.min(Math.max(b.v, lo), maxV) + out.length * gap);
    }
  });
  return out;
}

var frame = {
  id: 'frame',
  afterDraw: function(chart) {
    var a = chart.chartArea, ctx = chart.ctx;
    ctx.save();
    ctx.strokeStyle = '#3a3a3a';
    ctx.lineWidth = 1;
    ctx.strokeRect(Math.round(a.left) - 0.5, Math.round(a.top) - 0.5,
      Math.round(a.right - a.left) + 1, Math.round(a.bottom - a.top) + 1);
    ctx.restore();
  }
};

// line identifications: dotted marks, leaders and rotated labels
var lineIds = {
  id: 'lineIds',
  afterDatasetsDraw: function(chart, args, o) {
    var ctx = chart.ctx, a = chart.chartArea, xs = chart.scales.x, ys = chart.scales.y;
    var top = chart.data.datasets[o.top].data;
    var px = o.waves.map(function(w) { return xs.getPixelForValue(w); });
    var lx = spread(px, o.gap, a.left + o.lo, a.right + o.hi);
    ctx.save();
    ctx.strokeStyle = '#000';
    ctx.fillStyle = '#000';
    ctx.font = '6.5px "DejaVu Sans"';
    ctx.textAlign = 'left';
    ctx.textBaseline = 'middle';
    px.forEach(function(x, i) {
      var near = top.reduce(function(b, d) {
        return Math.abs(d.x - o.waves[i]) < Math.abs(b.x - o.waves[i]) ? d : b;
      });
      var yb = ys.getPixelForValue(near.y);
      ctx.lineWidth = 1;
      ctx.setLineDash([1, 1]);
      seg(ctx, x, a.top, x, yb);
      ctx.setLineDash([]);
      ctx.lineWidth = 0.7;
      seg(ctx, lx[i], 19, x, a.top);
      ctx.save();
      ctx.translate(lx[i], 17);
      ctx.rotate(-Math.PI / 2);
      ctx.fillText(o.names[i], 0, 0);
      ctx.restore();
    });
    ctx.restore();
  }
};

// small framed legend in the lower right corner of the axes
var boxLegend = {
  id: 'boxLegend',
  afterDraw: function(chart) {
    var ctx = chart.ctx, a = chart.chartArea, ds = chart.data.datasets;
    ctx.save();
    ctx.font = '5px "DejaVu Sans"';
    var tw = Math.max.apply(null, ds.map(function(d) { return ctx.measureText(d.label).width; }));
    var rowH = 6.2, w = tw + 18, h = ds.length * rowH + 4;
    var x0 = a.right - w - 1.5, y0 = a.bottom - h - 1.5;
    ctx.fillStyle = 'rgba(255,255,255,0.85)';
    ctx.strokeStyle = '#d0d0d0';
    ctx.lineWidth = 0.8;
    ctx.beginPath();
    ctx.roundRect(x0, y0, w, h, 1.5);
    ctx.fill();
    ctx.stroke();
    ds.forEach(function(d, i) {
      var y = y0 + 2 + rowH * (i + 0.5);
      ctx.strokeStyle = d.borderColor;
      ctx.lineWidth = 1.6;
      seg(ctx, x0 + 3, y, x0 + 12, y);
      ctx.fillStyle = '#000';
      ctx.textBaseline = 'middle';
      ctx.fillText(d.label, x0 + 15, y);
    });
    ctx.restore();
  }
};

function makePanel(id, p) {
  var datasets = p.series.map(function(s, k) {
    return {
      label: s.name,
      data: s.flux.map(function(v, i) { return { x: p.wave[i], y: v }; }),
      borderColor: s.color,
      borderWidth: 1,
      pointRadius: 0,
      tension: 0,
      fill: false,
      order: k === 0 ? 1 : 0
    };
  });
  var tickFont = { size: 7 };
  return new Chart(document.getElementById(id), {
    type: 'line',
    data: { datasets: datasets },
    plugins: [frame, lineIds, boxLegend],
    options: {
      responsive: false,
      animation: false,
      devicePixelRatio: 1,
      events: [],
      layout: { padding: { top: 35, right: p.padRight, left: 0, bottom: 0 } },
      plugins: {
        legend: { display: false },
        tooltip: { enabled: false },
        lineIds: { waves: p.lines, names: p.names, top: 1, gap: p.gap, lo: p.lo, hi: p.hi }
      },
      scales: {
        x: {
          type: 'linear',
          min: p.xMin,
          max: p.xMax,
          afterFit: function(s) { s.height = p.xHeight; },
          afterBuildTicks: function(s) { s.ticks = p.xTicks.map(function(v) { return { value: v }; }); },
          ticks: { font: tickFont, padding: 2, maxRotation: 0, autoSkip: false,
            callback: function(v) { return String(v); } },
          grid: { drawOnChartArea: false, drawTicks: true, tickLength: 3, color: '#333' },
          border: { display: false },
          title: { display: !!p.xTitle, text: p.xTitle || '', font: { size: 6.5 },
            padding: { top: 0, bottom: 5 } }
        },
        y: {
          min: p.yMin,
          max: p.yMax,
          afterFit: function(s) { s.width = p.yWidth; },
          afterBuildTicks: function(s) { s.ticks = p.yTicks.map(function(v) { return { value: v }; }); },
          ticks: { font: tickFont, padding: 2, autoSkip: false,
            callback: function(v) { return v.toFixed(p.yDigits); } },
          grid: { drawOnChartArea: false, drawTicks: true, tickLength: 3, color: '#333' },
          border: { display: false },
          title: { display: !!p.yTitle, text: p.yTitle || '', font: { size: 6.5 },
            padding: { top: 8, bottom: 0 } }
        }
      }
    }
  });
}

makePanel('panelJ', {
  wave: waveJ,
  series: [
    { name: 'V1082 Sgr', flux: fluxJ_Sgr, color: cSgr },
    { name: 'K0 V', flux: fluxJ_K0V, color: cK0 },
    { name: 'K1 IV', flux: fluxJ_K1IV, color: cGreen },
    { name: 'K2 V', flux: fluxJ_K2V, color: cBlue },
    { name: 'K4 V', flux: fluxJ_K4V, color: cBrown },
    { name: 'K5 V', flux: fluxJ_K5V, color: cOrange }
  ],
  lines: linesJ, names: namesJ, gap: 10.5, lo: 9, hi: -22,
  xMin: 11705, xMax: 12747, yMin: -0.045, yMax: 2.045,
  xTicks: xTicksJ, yTicks: yTicksJ, yDigits: 2,
  yWidth: 40, xHeight: 30, padRight: 14,
  yTitle: 'Normalized Flux'
});

makePanel('panelH', {
  wave: waveH,
  series: [
    { name: 'V1082 Sgr', flux: fluxH_Sgr, color: cSgr },
    { name: 'K1.5 IV', flux: fluxH_K15IV, color: cGreen },
    { name: 'K2 V', flux: fluxH_K2V, color: cBrown },
    { name: 'K3 V', flux: fluxH_K3V, color: cRed },
    { name: 'K4 V', flux: fluxH_K4V, color: cK0 },
    { name: 'K5 V', flux: fluxH_K5V, color: cOrange }
  ],
  lines: linesH, names: namesH, gap: 9, lo: -17, hi: 0,
  xMin: 15235, xMax: 17833, yMin: -0.136, yMax: 1.752,
  xTicks: xTicksH, yTicks: yTicksH, yDigits: 2,
  yWidth: 45, xHeight: 28, padRight: 12,
  xTitle: 'Wavelength [Å]'
});

makePanel('panelK', {
  wave: waveK,
  series: [
    { name: 'V1082 Sgr', flux: fluxK_Sgr, color: cSgr },
    { name: 'K0 IV', flux: fluxK_K0IV, color: cGreen },
    { name: 'K2 V', flux: fluxK_K2V, color: cBlue },
    { name: 'K3 V', flux: fluxK_K3V, color: cRed },
    { name: 'K5 V', flux: fluxK_K5V, color: cOrange }
  ],
  lines: linesK, names: namesK, gap: 14.5, lo: 23, hi: -10,
  xMin: 20988, xMax: 23083, yMin: 0.449, yMax: 1.37,
  xTicks: xTicksK, yTicks: yTicksK, yDigits: 1,
  yWidth: 45, xHeight: 28, padRight: 3
});
</script>
</body>
</html>
